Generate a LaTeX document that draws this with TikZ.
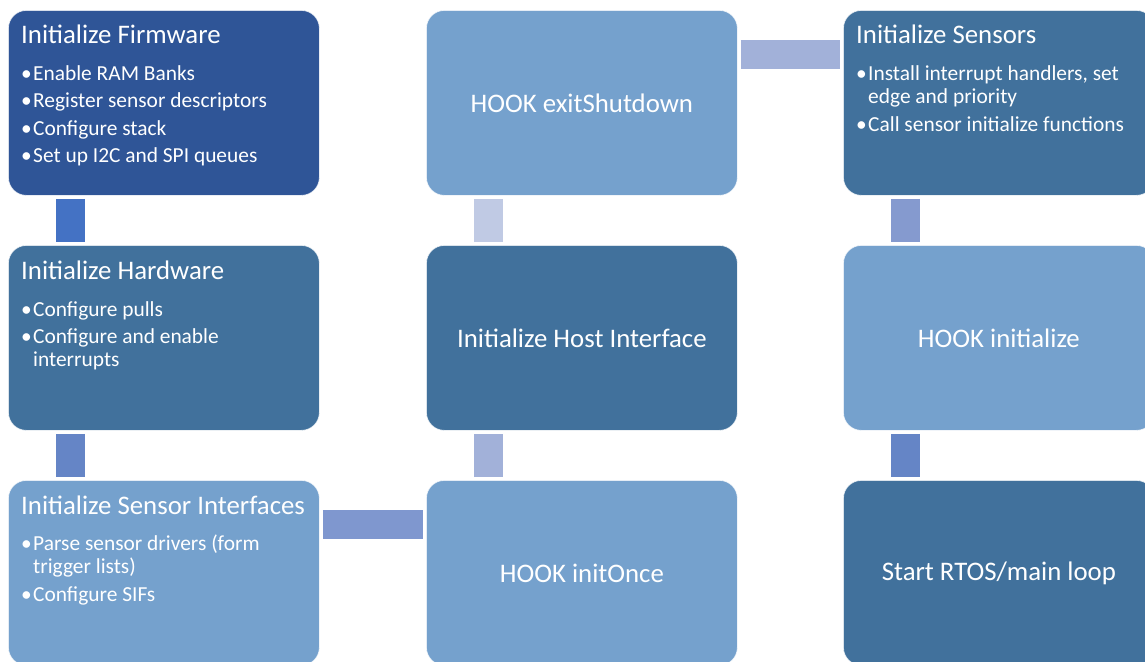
\documentclass[tikz,border=0pt]{standalone}
\usepackage{fontspec}
\setmainfont{Carlito}
\definecolor{cDark}{HTML}{2F5597}
\definecolor{cMid}{HTML}{41719C}
\definecolor{cLight}{HTML}{75A1CD}
\definecolor{k1}{HTML}{4472C4}
\definecolor{k2}{HTML}{6585C6}
\definecolor{k3}{HTML}{7F97CF}
\definecolor{k4}{HTML}{A2B1D9}
\definecolor{k5}{HTML}{C0CAE4}
\definecolor{k7}{HTML}{859ACF}
\tikzset{
  x=1pt, y=-1pt,
  box/.style={draw=white, draw opacity=0.7, line width=0.8pt, rounded corners=18pt,
    minimum width=311pt, minimum height=185pt, anchor=north west, inner sep=0pt,
    text=white, font=\fontsize{26.8}{30}\selectfont},
  ttl/.style={anchor=base west, inner sep=0pt, text=white, font=\fontsize{26.8}{30}\selectfont},
  itm/.style={anchor=base west, inner sep=0pt, text=white, font=\fontsize{21.4}{24}\selectfont},
  conn/.style={line width=29pt, line cap=butt},
}
\newcommand{\bul}{\makebox[12pt][l]{\textbullet}}
\begin{document}
\begin{tikzpicture}
\useasboundingbox (0,0) rectangle (1145,661);
\clip (0,0) rectangle (1145,661);
% boxes
\node[box, fill=cDark] (fw) at (8,10) {};
\node[box, fill=cMid] (hw) at (8,245) {};
\node[box, fill=cLight] (sif) at (8,480) {};
\node[box, fill=cLight] (ion) at (426,480) {HOOK initOnce};
\node[box, fill=cMid] (hif) at (426,245) {Initialize Host Interface};
\node[box, fill=cLight] (exs) at (426,10) {HOOK exitShutdown};
\node[box, fill=cMid] (isn) at (843,10) {};
\node[box, fill=cLight] (hin) at (843,245) {HOOK initialize};
\node[box, fill=cMid] (rtos) at (843,480) {Start RTOS/main loop};
% texts: Firmware
\node[ttl] (fwT) at ([xshift=13pt,yshift=-34pt]fw.north west) {Initialize Firmware};
\node[itm] (fw1) at ([xshift=13pt,yshift=-70.5pt]fw.north west) {\bul Enable RAM Banks};
\node[itm] (fw2) at ([xshift=13pt,yshift=-97.8pt]fw.north west) {\bul Register sensor descriptors};
\node[itm] (fw3) at ([xshift=13pt,yshift=-125.1pt]fw.north west) {\bul Configure stack};
\node[itm] (fw4) at ([xshift=13pt,yshift=-152.4pt]fw.north west) {\bul Set up I2C and SPI queues};
% Hardware
\node[ttl] (hwT) at ([xshift=13pt,yshift=-34.3pt]hw.north west) {Initialize Hardware};
\node[itm] (hw1) at ([xshift=13pt,yshift=-71pt]hw.north west) {\bul Configure pulls};
\node[itm] (hw2) at ([xshift=13pt,yshift=-98.3pt]hw.north west) {\bul Configure and enable};
\node[itm] (hw2b) at ([xshift=25pt,yshift=-121.6pt]hw.north west) {interrupts};
% Sensor Interfaces
\node[ttl] (sifT) at ([xshift=13pt,yshift=-34pt]sif.north west) {Initialize Sensor Interfaces};
\node[itm] (sif1) at ([xshift=13pt,yshift=-70.5pt]sif.north west) {\bul Parse sensor drivers (form};
\node[itm] (sif1b) at ([xshift=25pt,yshift=-93.8pt]sif.north west) {trigger lists)};
\node[itm] (sif2) at ([xshift=13pt,yshift=-121.1pt]sif.north west) {\bul Configure SIFs};
% Init Sensors
\node[ttl] (isnT) at ([xshift=13pt,yshift=-34pt]isn.north west) {Initialize Sensors};
\node[itm] (isn1) at ([xshift=13pt,yshift=-70.5pt]isn.north west) {\bul Install interrupt handlers, set};
\node[itm] (isn1b) at ([xshift=25pt,yshift=-93.8pt]isn.north west) {edge and priority};
\node[itm] (isn2) at ([xshift=13pt,yshift=-121.1pt]isn.north west) {\bul Call sensor initialize functions};
% connectors
\draw[conn, k1] ([xshift=62.5pt,yshift=-3pt]fw.south west) -- ([xshift=62.5pt,yshift=3pt]hw.north west);
\draw[conn, k2] ([xshift=62.5pt,yshift=-3pt]hw.south west) -- ([xshift=62.5pt,yshift=3pt]sif.north west);
\draw[conn, k3] ([xshift=3pt,yshift=-44.5pt]sif.north east) -- ([xshift=-3pt,yshift=-44.5pt]ion.north west);
\draw[conn, k4] ([xshift=62.5pt,yshift=3pt]ion.north west) -- ([xshift=62.5pt,yshift=-3pt]hif.south west);
\draw[conn, k5] ([xshift=62.5pt,yshift=3pt]hif.north west) -- ([xshift=62.5pt,yshift=-3pt]exs.south west);
\draw[conn, k4] ([xshift=3pt,yshift=-44.5pt]exs.north east) -- ([xshift=-3pt,yshift=-44.5pt]isn.north west);
\draw[conn, k7] ([xshift=62.5pt,yshift=-3pt]isn.south west) -- ([xshift=62.5pt,yshift=3pt]hin.north west);
\draw[conn, k2] ([xshift=62.5pt,yshift=-3pt]hin.south west) -- ([xshift=62.5pt,yshift=3pt]rtos.north west);
\end{tikzpicture}
\end{document}
